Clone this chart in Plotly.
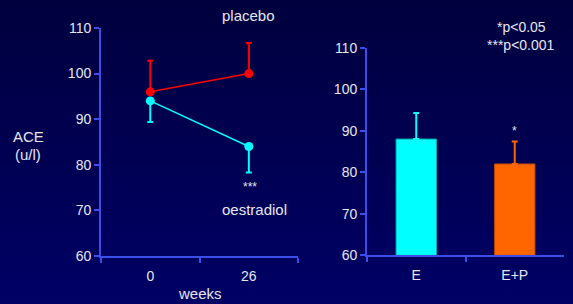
import base64
import plotly.graph_objects as go

weeks = ["0", "26"]
placebo = [96, 100]
placebo_err = [6.8, 6.7]
oestradiol = [94, 84]
oestradiol_err = [4.6, 5.7]

groups = ["E", "E+P"]
group_vals = [88, 82]
group_err = [6.3, 5.4]

BG = "#000050"
AX = "#3a4fe8"
TXT = "#e6e6ee"
FONT = "Liberation Sans, Arial, sans-serif"

svg = ('<svg xmlns="http://www.w3.org/2000/svg" width="573" height="304">'
       '<defs><linearGradient id="g" x1="0" y1="0" x2="0" y2="1">'
       '<stop offset="0" stop-color="#00003e"/>'
       '<stop offset="1" stop-color="#000066"/></linearGradient></defs>'
       '<rect width="573" height="304" fill="url(#g)"/></svg>')
bg_src = "data:image/svg+xml;base64," + base64.b64encode(svg.encode()).decode()

fig = go.Figure()

fig.add_trace(go.Scatter(
    x=weeks, y=placebo, mode="lines+markers",
    line=dict(color="#ff0000", width=1.5),
    marker=dict(color="#ff0000", size=9),
    error_y=dict(type="data", symmetric=False, array=placebo_err,
                 arrayminus=[0, 0], color="#ff0000", thickness=2, width=3),
    xaxis="x", yaxis="y", showlegend=False))

fig.add_trace(go.Scatter(
    x=weeks, y=oestradiol, mode="lines+markers",
    line=dict(color="#00ffff", width=1.5),
    marker=dict(color="#00ffff", size=9),
    error_y=dict(type="data", symmetric=False, array=[0, 0],
                 arrayminus=oestradiol_err, color="#00ffff", thickness=2, width=3),
    xaxis="x", yaxis="y", showlegend=False))

fig.add_trace(go.Bar(
    x=groups, y=[v - 60 for v in group_vals], base=60, width=0.41,
    marker=dict(color=["#00ffff", "#ff6600"],
                line=dict(color=["#00b0b0", "#c04800"], width=1)),
    xaxis="x2", yaxis="y2", showlegend=False))
for i, col in enumerate(["#00ffff", "#ff6600"]):
    fig.add_trace(go.Scatter(
        x=[groups[i]], y=[group_vals[i]], mode="markers",
        marker=dict(size=1, color="rgba(0,0,0,0)"),
        error_y=dict(type="data", symmetric=False, array=[group_err[i]],
                     arrayminus=[0], color=col, thickness=2, width=3),
        xaxis="x2", yaxis="y2", showlegend=False, hoverinfo="skip"))

axis_common = dict(showgrid=False, zeroline=False, showline=True,
                   linecolor=AX, linewidth=2, ticks="outside",
                   tickcolor=AX, tickwidth=2, ticklen=5, automargin=False,
                   tickfont=dict(color=TXT, size=14, family=FONT))

fig.update_layout(
    width=573, height=304,
    margin=dict(l=0, r=0, t=0, b=0, pad=0, autoexpand=False),
    paper_bgcolor=BG, plot_bgcolor="rgba(0,0,0,0)",
    font=dict(family=FONT, color=TXT, size=14),
    xaxis=dict(domain=[0.1763, 0.5203], type="category", range=[-0.5, 1.5],
               tickson="boundaries", anchor="y", ticklabelstandoff=6,
               **axis_common),
    yaxis=dict(domain=[0.158, 0.908], range=[60, 110], dtick=10,
               anchor="x", **axis_common),
    xaxis2=dict(domain=[0.6405, 0.9843], type="category", range=[-0.5, 1.5],
                tickson="boundaries", anchor="y2", ticklabelstandoff=6,
                **axis_common),
    yaxis2=dict(domain=[0.160, 0.843], range=[60, 110], dtick=10,
                anchor="x2", **axis_common),
    images=[dict(source=bg_src, xref="paper", yref="paper", x=0, y=1,
                 sizex=1, sizey=1, xanchor="left", yanchor="top",
                 sizing="stretch", layer="below")],
)

def px_ann(text, x, y, xanchor="center", size=15):
    return dict(text=text, x=x / 573, y=1 - y / 304, xref="paper", yref="paper",
                xanchor=xanchor, yanchor="middle", showarrow=False,
                font=dict(size=size, color=TXT, family=FONT))

fig.layout.annotations = [
    px_ann("placebo", 248, 16),
    px_ann("***", 250, 187, size=12),
    px_ann("oestradiol", 254, 209),
    px_ann("ACE", 28, 137),
    px_ann("(u/l)", 28, 155),
    px_ann("weeks", 200, 293),
    px_ann("*", 514, 131, size=12),
    px_ann("*p<0.05", 548, 27, xanchor="right", size=14),
    px_ann("***p<0.001", 557, 45, xanchor="right", size=14),
]

fig.write_html("out.html", config={"displayModeBar": False},
               post_script="document.body.style.margin='0px';"
                           "document.body.style.background='" + BG + "';")
